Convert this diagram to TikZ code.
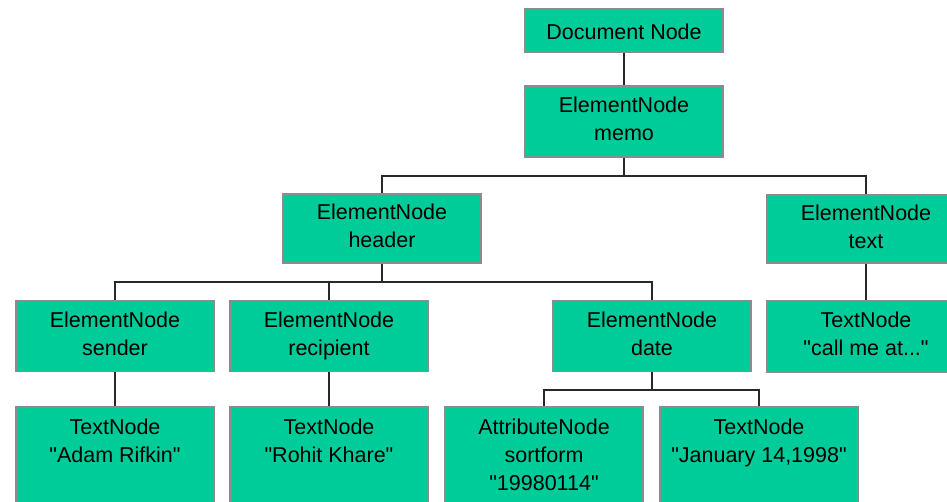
\documentclass[tikz,border=0pt]{standalone}
\usepackage{fontspec}
\setmainfont{Liberation Sans}[Ligatures=TeXOff]
\definecolor{boxfill}{RGB}{0,204,153}
\definecolor{boxline}{RGB}{140,140,140}
\definecolor{conn}{RGB}{40,40,40}
\tikzset{
  treebox/.style={draw=boxline, line width=1.3pt, fill=boxfill, minimum width=198pt,
    align=center, inner sep=0pt, font=\fontsize{21.5}{28}\selectfont, text=black,
    execute at begin node={\rule{0pt}{22.6pt}},
    execute at end node={\rule[-5.4pt]{0pt}{5.4pt}}},
  toprow/.style={treebox, minimum height=43pt},
  midbox/.style={treebox, minimum height=71pt},
  lowbox/.style={treebox, minimum height=101pt, anchor=north},
  link/.style={draw=conn, line width=1.6pt}
}
\begin{document}
\begin{tikzpicture}[x=1pt,y=-1pt]
\useasboundingbox (0,0) rectangle (947,501);
\fill[white] (0,0) rectangle (947,501);
\begin{scope}
\clip (0,0) rectangle (947,501);
\node[toprow] (doc) at (624,30.5) {Document Node};
\node[midbox] (memo) at (624,121.5) {ElementNode\\memo};
\node[midbox, minimum height=69pt] (header) at (382,228.5) {ElementNode\\header};
\node[midbox, minimum height=68pt] (textel) at (866,229) {ElementNode\\text};
\node[midbox] (callme) at (866,336.5) {TextNode\\"call me at..."};
\node[midbox] (sender) at (115,336) {ElementNode\\sender};
\node[midbox] (recip) at (329,336) {ElementNode\\recipient};
\node[midbox] (date) at (652,336) {ElementNode\\date};
\node[lowbox] (adam) at (115,406) {TextNode\\"Adam Rifkin"\\\mbox{}};
\node[lowbox] (rohit) at (329,406) {TextNode\\"Rohit Khare"\\\mbox{}};
\node[lowbox] (attr) at (544,406) {AttributeNode\\sortform\\"19980114"};
\node[lowbox] (jan) at (759,406) {TextNode\\"January 14,1998"\\\mbox{}};

\coordinate (b1) at (0,176);
\coordinate (b2) at (0,282);
\coordinate (b3) at (0,390);
\path[link] (doc.south) -- (memo.north);
\path[link] (memo.south) -- (memo.south |- b1) -| (header.north);
\path[link] (memo.south |- b1) -| (textel.north);
\path[link] (textel.south) -- (callme.north);
\path[link] (header.south) -- (header.south |- b2) -| (sender.north);
\path[link] (header.south |- b2) -| (recip.north);
\path[link] (header.south |- b2) -| (date.north);
\path[link] (sender.south) -- (adam.north);
\path[link] (recip.south) -- (rohit.north);
\path[link] (date.south) -- (date.south |- b3) -| (attr.north);
\path[link] (date.south |- b3) -| (jan.north);
\end{scope}
\end{tikzpicture}
\end{document}
